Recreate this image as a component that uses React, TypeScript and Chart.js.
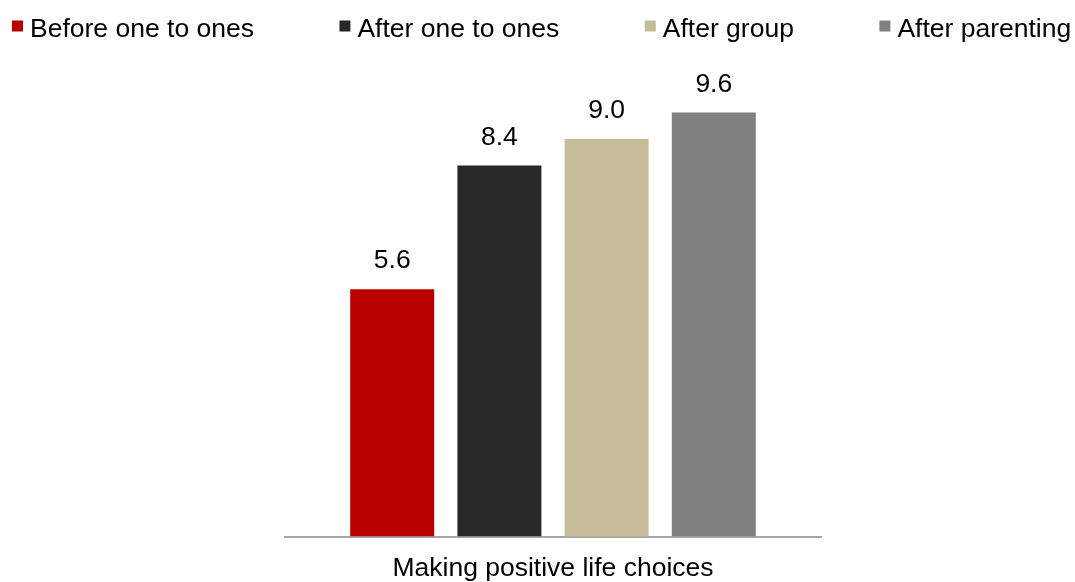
import React, { useEffect, useRef } from "react";
import { Chart, registerables } from "chart.js";

Chart.register(...registerables);

const categories = ["Making positive life choices"];
const seriesLabels = ["Before one to ones", "After one to ones", "After group", "After parenting"];
const beforeOneToOnes = [5.6];
const afterOneToOnes = [8.4];
const afterGroup = [9.0];
const afterParenting = [9.6];
const seriesColors = ["#B80000", "#282828", "#C5BD98", "#808080"];

const FONT_FAMILY = "'Liberation Sans', Arial, sans-serif";
const FONT_SIZE = 26.5;

const legendPlugin = {
  id: "customLegend",
  afterDraw(chart: any) {
    const ctx = chart.ctx;
    ctx.save();
    ctx.font = `${FONT_SIZE}px ${FONT_FAMILY}`;
    ctx.textBaseline = "alphabetic";
    ctx.textAlign = "left";
    let x = 12;
    const boxSize = 11;
    const gapBoxText = 7;
    const gapItems = 85.5;
    chart.data.datasets.forEach((ds: any) => {
      ctx.fillStyle = ds.backgroundColor;
      ctx.fillRect(x, 20.5, boxSize, boxSize);
      const tx = x + boxSize + gapBoxText;
      ctx.fillStyle = "#000000";
      ctx.fillText(ds.label, tx, 37);
      x = tx + ctx.measureText(ds.label).width + gapItems;
    });
    ctx.restore();
  },
};

const valueLabelPlugin = {
  id: "valueLabels",
  afterDatasetsDraw(chart: any) {
    const ctx = chart.ctx;
    ctx.save();
    ctx.font = `${FONT_SIZE}px ${FONT_FAMILY}`;
    ctx.textAlign = "center";
    ctx.textBaseline = "alphabetic";
    ctx.fillStyle = "#000000";
    chart.data.datasets.forEach((ds: any, i: number) => {
      const meta = chart.getDatasetMeta(i);
      meta.data.forEach((bar: any, j: number) => {
        const v = ds.data[j];
        ctx.fillText(Number(v).toFixed(1), bar.x, bar.y - 21);
      });
    });
    ctx.restore();
  },
};

export default function App() {
  const canvasRef = useRef<HTMLCanvasElement | null>(null);

  useEffect(() => {
    if (!canvasRef.current) return;
    const seriesValues = [beforeOneToOnes, afterOneToOnes, afterGroup, afterParenting];
    const chart = new Chart(canvasRef.current, {
      type: "bar",
      data: {
        labels: categories,
        datasets: seriesLabels.map((label, i) => ({
          label,
          data: seriesValues[i],
          backgroundColor: seriesColors[i],
          borderWidth: 0,
          categoryPercentage: 0.8,
          barPercentage: 0.7836,
        })),
      },
      options: {
        responsive: false,
        animation: false,
        devicePixelRatio: 1,
        layout: { padding: { left: 285, right: 254, top: 50.8, bottom: -18 } },
        plugins: {
          legend: { display: false },
          tooltip: { enabled: false },
        },
        scales: {
          x: {
            grid: { display: false, drawTicks: false },
            border: { display: true, color: "#A6A6A6", width: 2 },
            ticks: {
              color: "#000000",
              padding: 18.5,
              font: { family: FONT_FAMILY, size: FONT_SIZE, lineHeight: 1 },
            },
          },
          y: {
            display: false,
            min: 0,
            max: 11,
          },
        },
      },
      plugins: [legendPlugin, valueLabelPlugin],
    });
    return () => chart.destroy();
  }, []);

  return (
    <div style={{ position: "absolute", left: 0, top: 0, width: 1075, height: 582 }}>
      <canvas ref={canvasRef} width={1075} height={582} style={{ display: "block" }} />
    </div>
  );
}
